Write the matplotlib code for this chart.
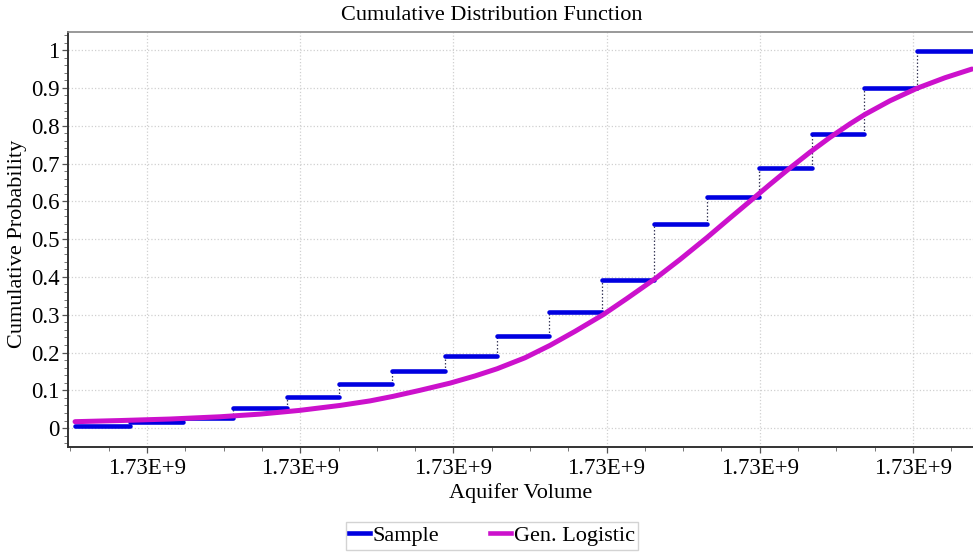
import matplotlib
matplotlib.use("Agg")
import matplotlib.pyplot as plt
from matplotlib.lines import Line2D
from matplotlib.ticker import FixedLocator, MultipleLocator

# ---- data (x in units of major-tick spacing; all ticks read "1.73E+9") ----
step_x = [-0.470, -0.111, 0.235, 0.561, 0.914, 1.253, 1.599, 1.945, 2.285,
          2.624, 2.970, 3.309, 3.655, 3.995, 4.341, 4.680, 5.026]
step_x_end = 5.385
sample_p = [0.005, 0.015, 0.027, 0.052, 0.083, 0.116, 0.150, 0.191, 0.244,
            0.306, 0.393, 0.540, 0.611, 0.687, 0.779, 0.901, 0.998]

curve_x = [-0.470, -0.176, 0.150, 0.477, 0.738, 0.999, 1.260, 1.456, 1.606,
           1.782, 1.978, 2.141, 2.285, 2.467, 2.631, 2.794, 2.977, 3.133,
           3.316, 3.479, 3.655, 3.806, 3.956, 4.067, 4.178, 4.328, 4.458,
           4.589, 4.687, 4.850, 5.026, 5.209, 5.385]
curve_p = [0.017, 0.020, 0.024, 0.030, 0.037, 0.047, 0.060, 0.072, 0.084,
           0.100, 0.119, 0.138, 0.157, 0.186, 0.219, 0.256, 0.300, 0.343,
           0.395, 0.446, 0.504, 0.556, 0.607, 0.645, 0.682, 0.730, 0.769,
           0.805, 0.830, 0.866, 0.899, 0.927, 0.950]

x_tick_pos = [0, 1, 2, 3, 4, 5]
x_tick_labels = ["1.73E+9"] * 6
y_tick_pos = [0.0, 0.1, 0.2, 0.3, 0.4, 0.5, 0.6, 0.7, 0.8, 0.9, 1.0]
y_tick_labels = ["0", "0.1", "0.2", "0.3", "0.4", "0.5", "0.6", "0.7", "0.8", "0.9", "1"]

title = "Cumulative Distribution Function"
x_label = "Aquifer Volume"
y_label = "Cumulative Probability"
series_names = ["Sample", "Gen. Logistic"]

BLUE = "#0000E0"
MAGENTA = "#CC11CC"

plt.rcParams['font.family'] = ['Liberation Serif', 'DejaVu Serif']
FS = 16
FS_TICK = 16.5

fig = plt.figure(figsize=(9.73, 5.52), dpi=100)
ax = fig.add_axes([68 / 973, 1 - 447 / 552, 1 - 68 / 973, (447 - 32) / 552])

# grid
ax.set_axisbelow(True)
ax.grid(True, which='major', linestyle=':', color='#D0D0D0', linewidth=0.9)

# sample steps
ends = step_x[1:] + [step_x_end]
hl = ax.hlines(sample_p, step_x, ends, colors=BLUE, linewidth=3.3, zorder=2)
hl.set_capstyle('round')
ax.vlines(step_x[1:], sample_p[:-1], sample_p[1:], colors='#3A3A5A',
          linestyles=(0, (1.2, 1.6)), linewidth=0.9, zorder=1.5)

# fitted curve
ax.plot(curve_x, curve_p, color=MAGENTA, linewidth=3.6, solid_capstyle='round',
        solid_joinstyle='round', zorder=3)

ax.set_xlim(-0.516, 5.392)
ax.set_ylim(-0.05, 1.048)

ax.xaxis.set_major_locator(FixedLocator(x_tick_pos))
ax.set_xticklabels(x_tick_labels, fontsize=FS_TICK)
ax.xaxis.set_minor_locator(MultipleLocator(0.25))
ax.yaxis.set_major_locator(FixedLocator(y_tick_pos))
ax.set_yticklabels(y_tick_labels, fontsize=FS_TICK)
ax.yaxis.set_minor_locator(MultipleLocator(0.02))
ax.tick_params(which='major', direction='out', length=4, width=0.9, color='#555555')
ax.tick_params(axis='y', which='major', pad=2)
ax.tick_params(axis='x', which='major', pad=4)
ax.tick_params(which='minor', direction='out', length=3, width=0.7, color='#777777')

for s in ['left', 'bottom']:
    ax.spines[s].set_color('#333333')
    ax.spines[s].set_linewidth(1.4)
ax.spines['top'].set_color('#888888')
ax.spines['top'].set_linewidth(1.2)
ax.spines['right'].set_visible(False)

fig.text(492 / 973, 1 - 16 / 552, title, ha='center', va='center', fontsize=FS)
ax.set_xlabel(x_label, fontsize=FS, labelpad=3)
ax.set_ylabel(y_label, fontsize=FS)
ax.yaxis.set_label_coords(-0.0453, 0.49)

handles = [Line2D([], [], color=BLUE, linewidth=3.3),
           Line2D([], [], color=MAGENTA, linewidth=3.3)]
leg = fig.legend(handles, series_names, loc='center', ncol=2,
                 bbox_to_anchor=(492 / 973, 1 - 536 / 552), fontsize=FS,
                 frameon=True, fancybox=False, edgecolor='#C8C8C8',
                 handlelength=0.95, handletextpad=0.1, columnspacing=2.3,
                 borderpad=0.15, borderaxespad=0)
leg.get_frame().set_linewidth(1.0)

fig.savefig("out.png", dpi=100)
